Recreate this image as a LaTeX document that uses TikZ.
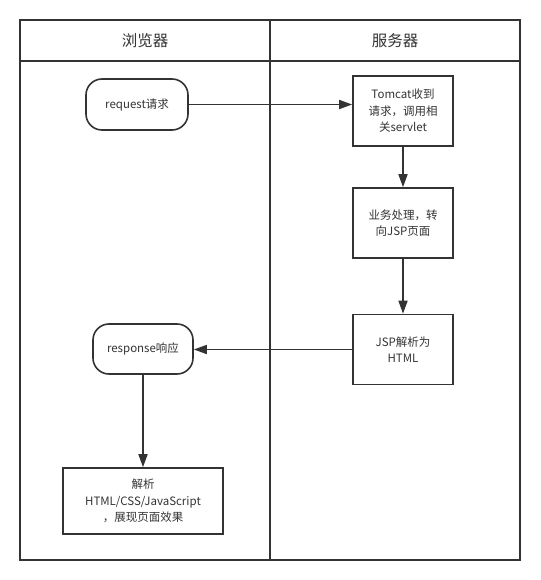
\documentclass[tikz,border=0pt]{standalone}
\usepackage{fontspec}
\setmainfont{Noto Sans CJK SC}
\usetikzlibrary{arrows.meta, positioning}
\definecolor{lanegray}{HTML}{333333}
\tikzset{ lane/.style={draw=lanegray, line width=1.6pt},
          lanetitle/.style={font=\fontsize{15.5}{18}\selectfont, text=lanegray}}
\tikzset{ endbox/.style={draw=lanegray, line width=1.6pt, rounded corners=16pt,
            minimum width=102pt, minimum height=51pt, align=center,
            font=\fontsize{11.5}{16.5}\selectfont, text=lanegray},
          stepbox/.style={draw=lanegray, line width=1.6pt,
            minimum width=100pt, minimum height=70pt, align=center,
            font=\fontsize{11.5}{16.5}\selectfont, text=lanegray},
          flow/.style={draw=lanegray, line width=1.6pt,
            -{Triangle[length=13pt,width=9pt]}}}

\begin{document}
\begin{tikzpicture}[x=1pt,y=-1pt]
\useasboundingbox (0,0) rectangle (540,580);

%swim lanes
\draw[lane] (20,20) rectangle (520,560);
\draw[lane] (20,61) -- (520,61);
\draw[lane] (270,20) -- (270,560);
\node[lanetitle] (browser) at (145,41) {浏览器};
\node[lanetitle] (server) at (395,41) {服务器};

%browser side
\node[endbox] (req) at (137,104.5) {request请求};
\node[endbox, minimum width=100pt, minimum height=50pt] (resp) at (143,349) {response响应};
\node[stepbox, minimum width=160pt, minimum height=66pt] (show) at (143,501)
  {解析\\HTML/CSS/JavaScript\\，展现页面效果};

%server side
\foreach \n/\y/\t in {tomcat/111/{Tomcat收到\\请求，调用相\\关servlet},
                      biz/223/{业务处理，转\\向JSP页面},
                      jsp/349.5/{JSP解析为\\HTML}}
  \node[stepbox] (\n) at (403,\y) {\t};

%arrows
\draw[flow] (req.east) -- (req.east -| tomcat.west);
\foreach \a/\b in {tomcat/biz, biz/jsp}
  \draw[flow] (\a) -- (\b);
\draw[flow] (jsp.west) -- (jsp.west -| resp.east);
\draw[flow] (resp) -- (show);

\end{tikzpicture}
\end{document}
